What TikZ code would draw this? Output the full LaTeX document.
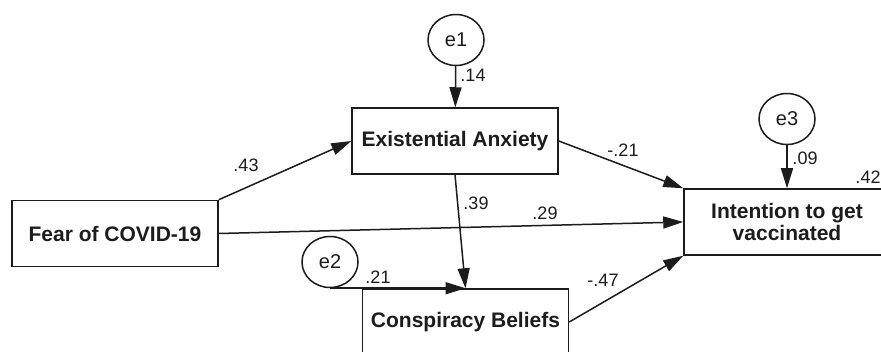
\documentclass[tikz,border=0pt]{standalone}
\usepackage{fontspec}
\setmainfont{Liberation Sans}
\usetikzlibrary{positioning, shapes.geometric, arrows.meta}
\definecolor{ink}{HTML}{1C1C1C}

\begin{document}
\begin{tikzpicture}[x=1pt, y=-1pt, >={Triangle[length=20pt,width=12pt]},
  var/.style={draw=ink, line width=1.5pt, minimum width=206pt, minimum height=66pt,
    align=center, text=ink, font=\fontsize{21}{22}\selectfont\bfseries},
  err/.style={draw=ink, ellipse, line width=1.5pt, minimum width=56pt, minimum height=51pt,
    inner sep=0pt, text=ink, font=\fontsize{20}{22}\selectfont},
  coef/.style={inner sep=0pt, text=ink, font=\fontsize{18}{19}\selectfont},
  link/.style={->, draw=ink, line width=1.5pt}]
  \useasboundingbox[fill=white] (0,0) rectangle (881,352);
  \clip (0,0) rectangle (881,352);

  % observed variables
  \node (fear) [var] at (115,233.5) {Fear of COVID-19};
  \node (anx)  [var] at (455,141) {Existential Anxiety};
  \node (consp) [var] at (465.5,322) {Conspiracy Beliefs};
  \node (intent) [var] at (787,222) {Intention to get\\vaccinated};

  % error terms
  \node (e1) [err] at (456,40) {e1};
  \node (e2) [err] at (330,262) {e2};
  \node (e3) [err] at (787,119) {e3};

  % paths
  \draw[link] (fear.north east) -- (anx.west);
  \draw[link] (fear.east) -- (intent.west);
  \draw[link] (anx.east) -- (intent.north west);
  \draw[link] (anx.south) -- (consp.north);
  \draw[link] (consp.east) -- (intent.south west);
  \draw[link] (e1) -- (anx);
  \draw[link] (e2.south) -- (consp.north);
  \draw[link] (e3) -- (intent);

  % coefficients
  \node (c-fa) [coef] at (246,165) {.43};
  \node (c-fi) [coef] at (545,213) {.29};
  \node (c-ai) [coef] at (623,150) {-.21};
  \node (c-ac) [coef] at (476,203) {.39};
  \node (c-ci) [coef] at (603,280) {-.47};
  \node (c-e1) [coef] at (473,75) {.14};
  \node (c-e2) [coef] at (378,277) {.21};
  \node (c-e3) [coef] at (805,158) {.09};
  \node (r2) [coef] at (868,177) {.42};
\end{tikzpicture}
\end{document}
